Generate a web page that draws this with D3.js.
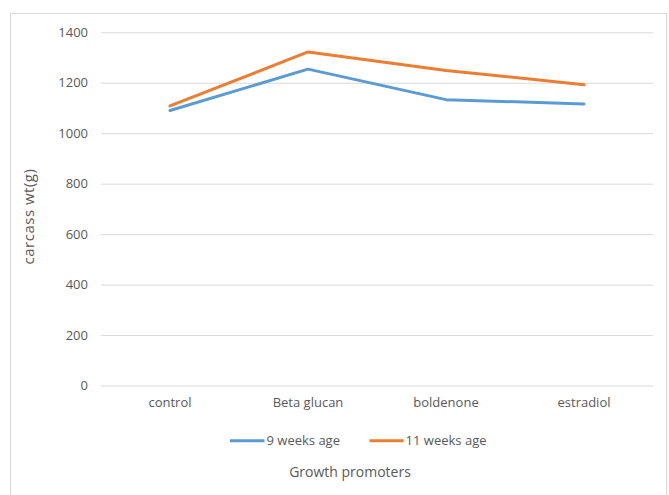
<!DOCTYPE html>
<html>
<head>
<meta charset="utf-8">
<script src="https://cdn.jsdelivr.net/npm/d3@7"></script>
<style>
  html, body { margin: 0; padding: 0; background: #fff; }
  svg { display: block; font-family: "Open Sans", sans-serif; }
</style>
</head>
<body>
<svg id="chart" width="669" height="495"></svg>
<script>
// Carcass weight by growth promoter at two ages
const categories = ["control", "Beta glucan", "boldenone", "estradiol"];
const week9 = [1090, 1254, 1133, 1116];
const week11 = [1108, 1322, 1249, 1192];
const seriesNames = ["9 weeks age", "11 weeks age"];
const seriesColors = ["#5B9BD5", "#ED7D31"];
const yTicks = [0, 200, 400, 600, 800, 1000, 1200, 1400];

const svg = d3.select("#chart");
const textColor = "#595959";

// Chart frame
svg.append("rect")
  .attr("x", 10.5).attr("y", 13.5)
  .attr("width", 656).attr("height", 520)
  .attr("fill", "none").attr("stroke", "#d9d9d9").attr("stroke-width", 1);

const plotLeft = 101, plotRight = 653, plotTop = 32.3, plotBottom = 385.5;

const x = d3.scaleBand().domain(categories).range([plotLeft, plotRight]).padding(0);
const y = d3.scaleLinear().domain([0, 1400]).range([plotBottom, plotTop]);

// Y axis with gridlines
const yAxis = svg.append("g")
  .attr("transform", `translate(${plotLeft},0)`)
  .call(d3.axisLeft(y).tickValues(yTicks).tickFormat(d3.format("d"))
    .tickSize(-(plotRight - plotLeft)).tickPadding(13));
yAxis.select(".domain").remove();
yAxis.selectAll(".tick line").attr("stroke", "#d9d9d9").attr("stroke-width", 1);
yAxis.selectAll(".tick text")
  .attr("fill", textColor).attr("font-size", 13)
  .attr("font-family", "'Open Sans', sans-serif");

// X axis labels
const xAxis = svg.append("g")
  .attr("transform", `translate(0,${plotBottom})`)
  .call(d3.axisBottom(x).tickSize(0).tickPadding(12));
xAxis.select(".domain").remove();
xAxis.selectAll(".tick text")
  .attr("fill", textColor).attr("font-size", 13)
  .attr("font-family", "'Open Sans', sans-serif");

// Series lines
const line = d3.line()
  .x((d, i) => x(categories[i]) + x.bandwidth() / 2)
  .y(d => y(d));

[week9, week11].forEach((vals, i) => {
  svg.append("path")
    .datum(vals)
    .attr("d", line)
    .attr("fill", "none")
    .attr("stroke", seriesColors[i])
    .attr("stroke-width", 3)
    .attr("stroke-linejoin", "round")
    .attr("stroke-linecap", "round");
});

// Legend
const legendItems = [
  { x1: 230, x2: 264.5, tx: 266.5 },
  { x1: 369.5, x2: 403.6, tx: 405.6 }
];
const legendY = 440.7;
legendItems.forEach((it, i) => {
  svg.append("line")
    .attr("x1", it.x1).attr("x2", it.x2)
    .attr("y1", legendY).attr("y2", legendY)
    .attr("stroke", seriesColors[i]).attr("stroke-width", 3);
  svg.append("text")
    .attr("x", it.tx).attr("y", legendY)
    .attr("dy", "0.35em")
    .attr("fill", textColor).attr("font-size", 13)
    .text(seriesNames[i]);
});

// Axis titles
svg.append("text")
  .attr("x", 350).attr("y", 471.7)
  .attr("dy", "0.35em")
  .attr("text-anchor", "middle")
  .attr("fill", textColor).attr("font-size", 14)
  .text("Growth promoters");

svg.append("text")
  .attr("transform", "translate(29,216.5) rotate(-90)")
  .attr("dy", "0.35em")
  .attr("text-anchor", "middle")
  .attr("fill", textColor).attr("font-size", 15)
  .attr("letter-spacing", 0.5)
  .text("carcass wt(g)");
</script>
</body>
</html>
